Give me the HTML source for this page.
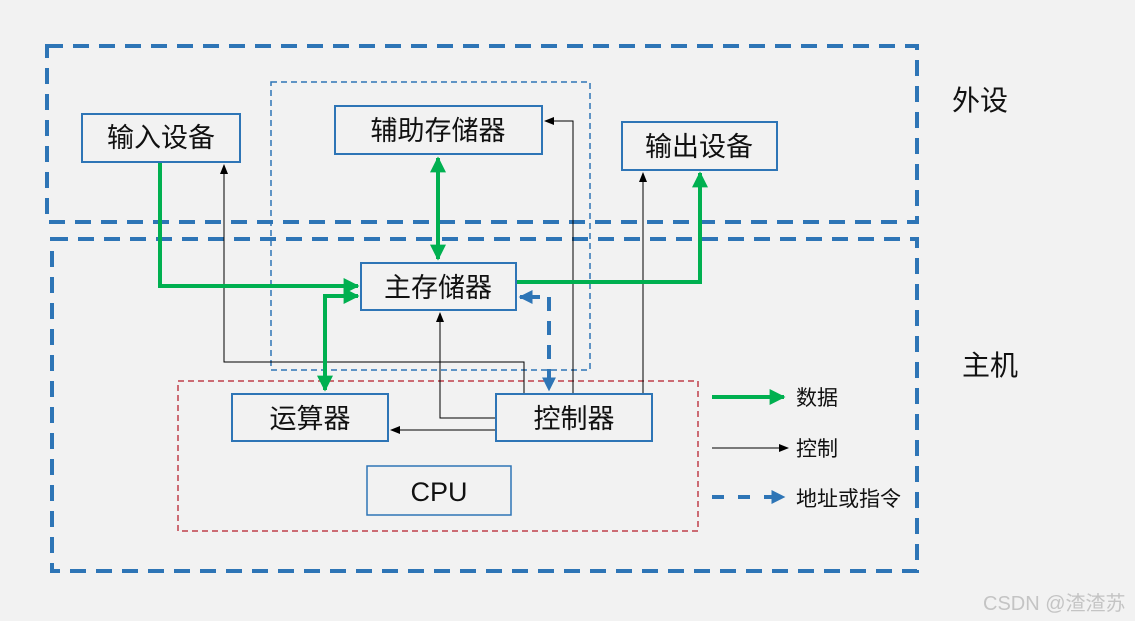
<!DOCTYPE html>
<html><head><meta charset="utf-8"><style>
html,body{margin:0;padding:0;background:#f2f2f2}
svg{display:block}
text{font-family:"Liberation Sans","Noto Sans CJK SC",sans-serif;fill:#111}
</style></head><body>
<svg width="1135" height="621" viewBox="0 0 1135 621" xmlns="http://www.w3.org/2000/svg">
<defs>
<marker id="g" viewBox="0 0 10 10" refX="9" refY="5" markerWidth="4" markerHeight="4" orient="auto-start-reverse"><path d="M0,0L10,5L0,10z" fill="#00b050"/></marker>
<marker id="k" viewBox="0 0 10 10" refX="9" refY="5" markerWidth="10" markerHeight="10" orient="auto-start-reverse"><path d="M0,1L10,5L0,9z" fill="#000"/></marker>
<marker id="b" viewBox="0 0 10 10" refX="9" refY="5" markerWidth="3.5" markerHeight="3.5" orient="auto"><path d="M0,0L10,5L0,10z" fill="#2e75b6"/></marker>
</defs>
<rect width="1135" height="621" fill="#f2f2f2"/>
<rect x="47" y="46" width="870" height="176" fill="none" stroke="#2e75b6" stroke-width="4" stroke-dasharray="16,10"/>
<rect x="52" y="239" width="865" height="332" fill="none" stroke="#2e75b6" stroke-width="4" stroke-dasharray="16,10"/>
<rect x="271" y="82" width="319" height="288" fill="none" stroke="#2e75b6" stroke-width="1.5" stroke-dasharray="6,4"/>
<rect x="178" y="381" width="520" height="150" fill="none" stroke="#c0404a" stroke-width="1.5" stroke-dasharray="6,4"/>
<g stroke="#000" stroke-width="1" fill="none">
<polyline points="524,394 524,362 224,362 224,165" marker-end="url(#k)"/>
<polyline points="496,418 440,418 440,313" marker-end="url(#k)"/>
<polyline points="496,430 391,430" marker-end="url(#k)"/>
<polyline points="573,394 573,121 545,121" marker-end="url(#k)"/>
<polyline points="643,394 643,173" marker-end="url(#k)"/>
</g>
<g stroke="#00b050" stroke-width="4" fill="none">
<polyline points="160,162 160,286 358,286" marker-end="url(#g)"/>
<line x1="438" y1="158" x2="438" y2="259" marker-start="url(#g)" marker-end="url(#g)"/>
<polyline points="516,282 700,282 700,173" marker-end="url(#g)"/>
<polyline points="325,390 325,296 358,296" marker-start="url(#g)" marker-end="url(#g)"/>
</g>
<g stroke="#2e75b6" stroke-width="4" fill="none">
<line x1="540" y1="297" x2="520" y2="297" marker-end="url(#b)"/>
<line x1="549" y1="297" x2="549" y2="390" stroke-dasharray="14,10" marker-end="url(#b)"/>
</g>
<g fill="#f2f2f2" stroke="#2e75b6" stroke-width="2">
<rect x="82" y="114" width="158" height="48"/>
<rect x="335" y="106" width="207" height="48"/>
<rect x="622" y="122" width="155" height="48"/>
<rect x="361" y="263" width="155" height="47"/>
<rect x="232" y="394" width="156" height="47"/>
<rect x="496" y="394" width="156" height="47"/>
<rect x="367" y="466" width="144" height="49" stroke-width="1.5"/>
</g>
<g font-size="27" text-anchor="middle">
<text x="161" y="147">输入设备</text>
<text x="438" y="140">辅助存储器</text>
<text x="699" y="156">输出设备</text>
<text x="438" y="297">主存储器</text>
<text x="310" y="428">运算器</text>
<text x="574" y="428">控制器</text>
<text x="439" y="501">CPU</text>
<text x="980" y="110" font-size="28">外设</text>
<text x="990" y="375" font-size="28">主机</text>
</g>
<line x1="712" y1="397" x2="784" y2="397" stroke="#00b050" stroke-width="4" marker-end="url(#g)"/>
<line x1="712" y1="448" x2="788" y2="448" stroke="#000" stroke-width="1" marker-end="url(#k)"/>
<line x1="712" y1="497" x2="784" y2="497" stroke="#2e75b6" stroke-width="4" stroke-dasharray="12,14" marker-end="url(#b)"/>
<g font-size="21">
<text x="796" y="405">数据</text>
<text x="796" y="456">控制</text>
<text x="796" y="506">地址或指令</text>
</g>
<text x="983" y="610" font-size="20" style="fill:#c4c4c4">CSDN @渣渣苏</text>
</svg>
</body></html>
